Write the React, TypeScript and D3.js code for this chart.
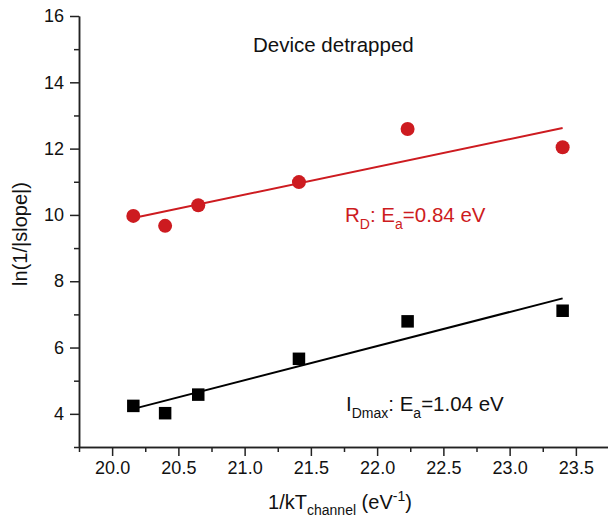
import React, { useEffect, useRef } from "react";
import * as d3 from "d3";

// 1/kT_channel values (eV^-1)
const invKT = [20.16, 20.4, 20.65, 21.41, 22.23, 23.4];
// ln(1/|slope|) for R_D (red circles)
const rdValues = [9.97, 9.67, 10.29, 10.99, 12.59, 12.04];
// ln(1/|slope|) for I_Dmax (black squares)
const idValues = [4.24, 4.02, 4.58, 5.66, 6.79, 7.11];

const xMajor = [20.0, 20.5, 21.0, 21.5, 22.0, 22.5, 23.0, 23.5];
const xMinor = [19.75, 20.25, 20.75, 21.25, 21.75, 22.25, 22.75, 23.25, 23.75];
const yMajor = [4, 6, 8, 10, 12, 14, 16];
const yMinor = [3, 5, 7, 9, 11, 13, 15];

const RED = "#cd1b20";
const FONT = "'Liberation Sans', Arial, sans-serif";

function linFit(xs: number[], ys: number[]) {
  const mx = d3.mean(xs) as number;
  const my = d3.mean(ys) as number;
  let sxy = 0;
  let sxx = 0;
  xs.forEach((x, i) => {
    sxy += (x - mx) * (ys[i] - my);
    sxx += (x - mx) * (x - mx);
  });
  const slope = sxy / sxx;
  return { slope, intercept: my - slope * mx };
}

export default function App() {
  const ref = useRef<SVGSVGElement>(null);

  useEffect(() => {
    const w = 608;
    const h = 519;

    const x = d3.scaleLinear().domain([19.75, 23.75]).range([79, 609]);
    const y = d3.scaleLinear().domain([3, 16]).range([447, 16]);

    const svg = d3.select(ref.current);
    svg.selectAll("*").remove();
    svg.attr("width", w).attr("height", h).style("font-family", FONT);

    // Axes
    const axisColor = "#222";
    const styleAxis = (g: any) => {
      g.select(".domain").attr("stroke", axisColor).attr("stroke-width", 1.5);
      g.selectAll(".tick line").attr("stroke", axisColor).attr("stroke-width", 1.5);
      g.selectAll(".tick text")
        .attr("fill", "#111")
        .style("font-size", "18px")
        .style("font-family", FONT);
    };

    svg
      .append("g")
      .attr("transform", `translate(0, ${y(3)})`)
      .call(d3.axisBottom(x).tickValues(xMinor).tickSize(5).tickFormat(() => "").tickSizeOuter(0))
      .call(styleAxis);

    svg
      .append("g")
      .attr("transform", `translate(0, ${y(3)})`)
      .call(
        d3
          .axisBottom(x)
          .tickValues(xMajor)
          .tickSize(9)
          .tickPadding(5)
          .tickFormat(d3.format(".1f"))
          .tickSizeOuter(0)
      )
      .call(styleAxis);

    svg
      .append("g")
      .attr("transform", `translate(${x(19.75)}, 0)`)
      .call(d3.axisLeft(y).tickValues(yMinor).tickSize(5).tickFormat(() => "").tickSizeOuter(0))
      .call(styleAxis);

    svg
      .append("g")
      .attr("transform", `translate(${x(19.75)}, 0)`)
      .call(d3.axisLeft(y).tickValues(yMajor).tickSize(9).tickPadding(6).tickSizeOuter(0))
      .call(styleAxis);

    // Fit lines
    const xExt = d3.extent(invKT) as [number, number];
    const fits = [
      { vals: rdValues, color: RED },
      { vals: idValues, color: "#000" },
    ];
    fits.forEach(f => {
      const { slope, intercept } = linFit(invKT, f.vals);
      svg
        .append("path")
        .datum(xExt)
        .attr("fill", "none")
        .attr("stroke", f.color)
        .attr("stroke-width", 2)
        .attr(
          "d",
          d3
            .line<number>()
            .x(d => x(d))
            .y(d => y(slope * d + intercept))
        );
    });

    // Red circles
    svg
      .append("g")
      .selectAll("circle")
      .data(rdValues)
      .join("circle")
      .attr("cx", (d, i) => x(invKT[i]))
      .attr("cy", d => y(d))
      .attr("r", 7)
      .attr("fill", RED);

    // Black squares
    const sq = 12.5;
    svg
      .append("g")
      .selectAll("rect")
      .data(idValues)
      .join("rect")
      .attr("x", (d, i) => x(invKT[i]) - sq / 2)
      .attr("y", d => y(d) - sq / 2)
      .attr("width", sq)
      .attr("height", sq)
      .attr("fill", "#000");

    // Title
    svg
      .append("text")
      .attr("x", 253)
      .attr("y", 52)
      .style("font-size", "20.5px")
      .attr("fill", "#111")
      .text("Device detrapped");

    // Annotations
    const rd = svg
      .append("text")
      .attr("x", 345)
      .attr("y", 222)
      .attr("fill", RED)
      .style("font-size", "20.5px");
    rd.append("tspan").text("R");
    rd.append("tspan").attr("dy", 7).style("font-size", "14px").text("D");
    rd.append("tspan").attr("dy", -7).text(": E");
    rd.append("tspan").attr("dy", 7).style("font-size", "14px").text("a");
    rd.append("tspan").attr("dy", -7).text("=0.84 eV");

    const id = svg
      .append("text")
      .attr("x", 346)
      .attr("y", 411)
      .attr("fill", "#111")
      .style("font-size", "20.5px");
    id.append("tspan").text("I");
    id.append("tspan").attr("dy", 7).style("font-size", "14px").text("Dmax");
    id.append("tspan").attr("dy", -7).text(": E");
    id.append("tspan").attr("dy", 7).style("font-size", "14px").text("a");
    id.append("tspan").attr("dy", -7).text("=1.04 eV");

    // x-axis label
    const xl = svg
      .append("text")
      .attr("x", 340)
      .attr("y", 509)
      .attr("text-anchor", "middle")
      .attr("fill", "#111")
      .style("font-size", "20px");
    xl.append("tspan").text("1/kT");
    xl.append("tspan").attr("dy", 6).style("font-size", "14px").text("channel");
    xl.append("tspan").attr("dy", -6).text(" (eV");
    xl.append("tspan").attr("dy", -8).style("font-size", "14px").text("-1");
    xl.append("tspan").attr("dy", 8).text(")");

    // y-axis label
    svg
      .append("text")
      .attr("transform", "rotate(-90)")
      .attr("x", -234)
      .attr("y", 27)
      .attr("text-anchor", "middle")
      .attr("fill", "#111")
      .style("font-size", "20px")
      .text("ln(1/|slope|)");
  }, []);

  return <svg ref={ref} style={{ position: "absolute", left: 0, top: 0 }} />;
}
